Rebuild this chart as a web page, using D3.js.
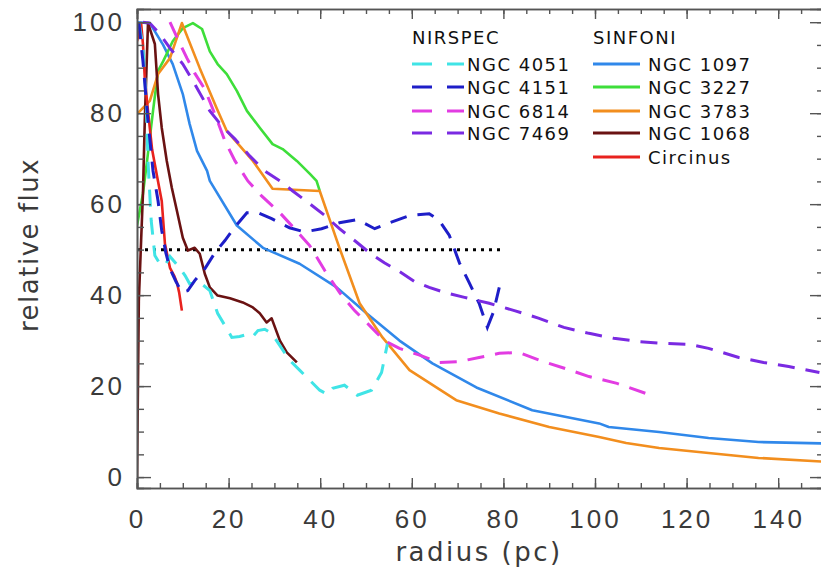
<!doctype html>
<html>
<head>
<meta charset="utf-8">
<title>relative flux vs radius</title>
<script src="https://cdn.jsdelivr.net/npm/d3@7"></script>
<style>
  body { margin: 0; background: #fff; }
  svg { display: block; font-family: "DejaVu Sans", sans-serif; }
</style>
</head>
<body>
<svg id="chart" width="821" height="577"></svg>
<script>
// radius (pc), relative flux
const ngc4051 = [[0.4,100],[1.3,94.7],[2,82.7],[2.4,69.5],[3.1,56.4],[3.9,48.7],[5,46.9],[6.1,46.5],[7.2,48.5],[8.9,46.5],[10.5,44.3],[11.5,42.5],[13.7,42.8],[15.9,41],[17.6,36],[19.2,33.3],[20.7,30.7],[22.4,30.9],[24.2,31.4],[25.3,30.9],[26.4,32.2],[27.9,32.5],[29.4,31.6],[31.2,28.9],[33.3,25.7],[35.5,23.5],[37.7,21.3],[39.9,19.1],[41.6,18.2],[42.7,19.5],[45.3,20.2],[48.1,18],[51.2,19.1],[53.4,23],[54.7,29.4]];
const ngc4151 = [[0.4,100],[1.3,91.4],[2.4,78.3],[3.5,67.3],[4.6,60.7],[5.4,54.2],[6.3,49.3],[7.2,45.8],[8.5,43],[9.8,40.6],[11.1,41],[12.6,43.2],[14.8,45.8],[17,49.3],[19.2,52],[21.4,55],[24,58.1],[26.4,58.1],[29.4,56.8],[33.3,54.8],[36.6,53.9],[40.3,54.6],[44.2,55.9],[48.1,56.6],[51.9,54.6],[55.1,55.9],[59.5,57.5],[63.8,57.9],[66,56.4],[68.2,53.1],[70.4,47.1],[72.5,42.8],[74.7,38.2],[76.5,32.9],[77.8,36.2],[79.1,41.7]];
const ngc6814 = [[7.2,100],[8.9,96.3],[10.9,92.1],[12.6,88.8],[14.8,85.3],[17,79.8],[19.2,73.9],[21.4,69.5],[24.2,65.1],[27.2,61.8],[31.2,58.1],[34.4,54.6],[37.7,50.9],[41,45.4],[44.2,40.6],[47.5,36.6],[50.8,33.3],[54,30],[57.3,28.3],[61.7,26.8],[66,25.2],[70.4,25.4],[74.7,26.3],[79.1,27.2],[83.4,27.4],[87.8,25.7],[92.8,24.1],[98.7,22.1],[104.8,20.6],[112.2,18]];
const ngc7469 = [[1.3,100],[2.8,99.8],[5,97.4],[7.2,94.3],[10,90.8],[12.6,86.4],[15.9,80.5],[18.5,77.2],[21.4,74.3],[24.6,70.6],[27.9,67.3],[31.2,65.1],[34,62.9],[37.7,60.1],[41,57.5],[44.2,54.6],[47.5,52],[50.8,49.3],[54,47.1],[57.3,45.2],[60.6,43],[63.8,41.7],[67.1,40.6],[71.5,39.5],[76.9,38.2],[82.4,36.6],[87.8,34.9],[93.2,32.9],[98.7,31.6],[104.1,30.5],[109.6,29.8],[115,29.4],[120.5,29.2],[124.8,28.3],[131.4,26.3],[136.8,25.2],[142.3,24.3],[149,23]];
const ngc1097 = [[0,100],[2.8,99.8],[5.7,95],[7.8,90.8],[10,84.2],[11.5,77.6],[13.1,71.7],[15.3,67.3],[15.9,65.1],[21.8,55.3],[27.5,50.4],[35.5,46.9],[43.6,41.7],[50.1,36],[57.3,30],[64.5,25],[74.1,19.7],[86.3,14.7],[100.9,11.8],[103,11],[114,9.9],[124.8,8.6],[135.7,7.7],[150,7.4]];
const ngc3227 = [[0,55.3],[1.3,62.3],[2.2,69.5],[3.5,80.5],[4.6,89.3],[5.7,91.4],[7.8,95.8],[10,98.7],[12.2,99.8],[14.2,98.5],[15.9,93.6],[17.6,90.8],[19.6,88.6],[21.8,84.9],[24,80.5],[26.8,76.8],[29.6,73.2],[31.8,72.1],[34.9,69.5],[37.7,66.7],[39.2,65.1],[39.9,62.9]];
const ngc3783 = [[0,79.8],[2.8,82.7],[4.6,88.6],[7.2,92.1],[9.8,99.8],[13.7,89.9],[17.4,81.1],[19.6,76.1],[25.3,69.5],[29.6,63.4],[39.9,62.9],[44.2,50.4],[48.6,38.2],[53.6,30.7],[59.5,23.5],[69.7,16.9],[79.1,14],[90,11],[100.9,8.8],[106.8,7.5],[114,6.4],[124.8,5.3],[135.7,4.2],[150,3.4]];
const ngc1068 = [[0,0],[0.4,38.8],[0.9,52],[1.3,62.3],[1.7,78.3],[2.4,99.8],[3.9,95.2],[4.6,84.2],[5.4,76.8],[6.5,69.5],[7.6,63.6],[8.7,58.6],[10,52.6],[11.1,49.8],[12.6,50.4],[13.7,49.1],[14.8,44.7],[15.9,41.7],[17.6,39.9],[20.3,39.3],[23.1,38.4],[25.3,37.3],[26.8,36],[28.3,34],[29.4,34.9],[31.2,30],[32.7,27.4],[34.9,25.2]];
const circinus = [[0,95.8],[0.9,99.8],[1.3,95.2],[1.7,87.7],[2.4,80.5],[3.3,72],[4.4,66],[5.4,60.7],[6.1,51.3],[7.2,46],[8.1,44.3],[8.7,42.8],[9.2,40.6],[9.8,36.6]];
const halfLine = [[0,50],[80,50]];

const nirspecNames = ["NGC 4051", "NGC 4151", "NGC 6814", "NGC 7469"];
const sinfoniNames = ["NGC 1097", "NGC 3227", "NGC 3783", "NGC 1068", "Circinus"];
const xTicks = [0, 20, 40, 60, 80, 100, 120, 140];
const yTicks = [0, 20, 40, 60, 80, 100];

const nirspec = [
  { name: "NGC 4051", data: ngc4051, color: "#40e4e6" },
  { name: "NGC 4151", data: ngc4151, color: "#1e1ec8" },
  { name: "NGC 6814", data: ngc6814, color: "#e23ce2" },
  { name: "NGC 7469", data: ngc7469, color: "#7a2ae2" }
];
const sinfoni = [
  { name: "NGC 1097", data: ngc1097, color: "#3088ea" },
  { name: "NGC 3227", data: ngc3227, color: "#3ede3a" },
  { name: "NGC 3783", data: ngc3783, color: "#f28e1e" },
  { name: "NGC 1068", data: ngc1068, color: "#6a1212" },
  { name: "Circinus", data: circinus, color: "#e8221e" }
];

const svg = d3.select("#chart");
const plotL = 137, plotR = 824, plotT = 9, plotB = 488;

const x = d3.scaleLinear().domain([0, 150]).range([plotL, plotR]);
const y = d3.scaleLinear().domain([-2.4, 102.9]).range([plotB, plotT]);

svg.append("rect").attr("width", 821).attr("height", 577).attr("fill", "#fff");

svg.append("clipPath").attr("id", "plot")
  .append("rect").attr("x", plotL).attr("y", plotT)
  .attr("width", plotR - plotL).attr("height", plotB - plotT);

const line = d3.line().x(d => x(d[0])).y(d => y(d[1]));
const g = svg.append("g").attr("clip-path", "url(#plot)");

// dotted 50% level
g.append("path").attr("d", line(halfLine))
  .attr("fill", "none").attr("stroke", "#000")
  .attr("stroke-width", 3).attr("stroke-dasharray", "3,5");

sinfoni.forEach(s => {
  g.append("path").attr("d", line(s.data))
    .attr("fill", "none").attr("stroke", s.color)
    .attr("stroke-width", 2.6).attr("stroke-linejoin", "round");
});
nirspec.forEach(s => {
  g.append("path").attr("d", line(s.data))
    .attr("fill", "none").attr("stroke", s.color)
    .attr("stroke-width", 3).attr("stroke-dasharray", "17,11");
});

// axes (IDL-style box with inward ticks)
const axisColor = "#555";
const xMinor = d3.range(0, 151, 5);
const yMinor = d3.range(0, 101, 5);

svg.append("g").attr("transform", `translate(0,${plotB})`)
  .call(d3.axisBottom(x).tickValues(xMinor).tickSize(-5).tickFormat(""));
svg.append("g").attr("transform", `translate(0,${plotB})`)
  .call(d3.axisBottom(x).tickValues(xTicks).tickSize(-10).tickPadding(22)
    .tickFormat(d3.format("d")));
svg.append("g").attr("transform", `translate(0,${plotT})`)
  .call(d3.axisTop(x).tickValues(xMinor).tickSize(-5).tickFormat(""));
svg.append("g").attr("transform", `translate(0,${plotT})`)
  .call(d3.axisTop(x).tickValues(xTicks).tickSize(-10).tickFormat(""));
svg.append("g").attr("transform", `translate(${plotL},0)`)
  .call(d3.axisLeft(y).tickValues(yMinor).tickSize(-7).tickFormat(""));
svg.append("g").attr("transform", `translate(${plotL},0)`)
  .call(d3.axisLeft(y).tickValues(yTicks).tickSize(-14).tickPadding(12)
    .tickFormat(d3.format("d")));
svg.append("g").attr("transform", `translate(${plotR},0)`)
  .call(d3.axisRight(y).tickValues(yMinor).tickSize(-7).tickFormat(""));
svg.append("g").attr("transform", `translate(${plotR},0)`)
  .call(d3.axisRight(y).tickValues(yTicks).tickSize(-14).tickFormat(""));

svg.selectAll(".domain").attr("stroke", axisColor).attr("stroke-width", 1.6);
svg.selectAll(".tick line").attr("stroke", axisColor).attr("stroke-width", 1.4);
svg.selectAll(".tick text").attr("fill", "#3a3a3a").style("font-size", "26px")
  .style("letter-spacing", "3px");

svg.append("text").attr("x", 479).attr("y", 561).attr("text-anchor", "middle")
  .attr("fill", "#3a3a3a").style("font-size", "26px").style("letter-spacing", "2.5px")
  .text("radius (pc)");
svg.append("text").attr("transform", "translate(38,245) rotate(-90)")
  .attr("text-anchor", "middle").attr("fill", "#3a3a3a")
  .style("font-size", "26px").style("letter-spacing", "1.5px")
  .text("relative flux");

// legend
const legend = svg.append("g").style("font-size", "18px")
  .style("letter-spacing", "1.5px").attr("fill", "#111");
const rowY = [64, 87, 111, 133, 157];
legend.append("text").attr("x", 412).attr("y", 44).text("NIRSPEC");
legend.append("text").attr("x", 593).attr("y", 44).text("SINFONI");
nirspec.forEach((s, i) => {
  legend.append("line").attr("x1", 412).attr("x2", 464)
    .attr("y1", rowY[i]).attr("y2", rowY[i])
    .attr("stroke", s.color).attr("stroke-width", 3).attr("stroke-dasharray", "20,15");
  legend.append("text").attr("x", 467).attr("y", rowY[i] + 7).text(nirspecNames[i]);
});
sinfoni.forEach((s, i) => {
  legend.append("line").attr("x1", 593).attr("x2", 640)
    .attr("y1", rowY[i]).attr("y2", rowY[i])
    .attr("stroke", s.color).attr("stroke-width", 3);
  legend.append("text").attr("x", 648).attr("y", rowY[i] + 7).text(sinfoniNames[i]);
});
</script>
</body>
</html>
